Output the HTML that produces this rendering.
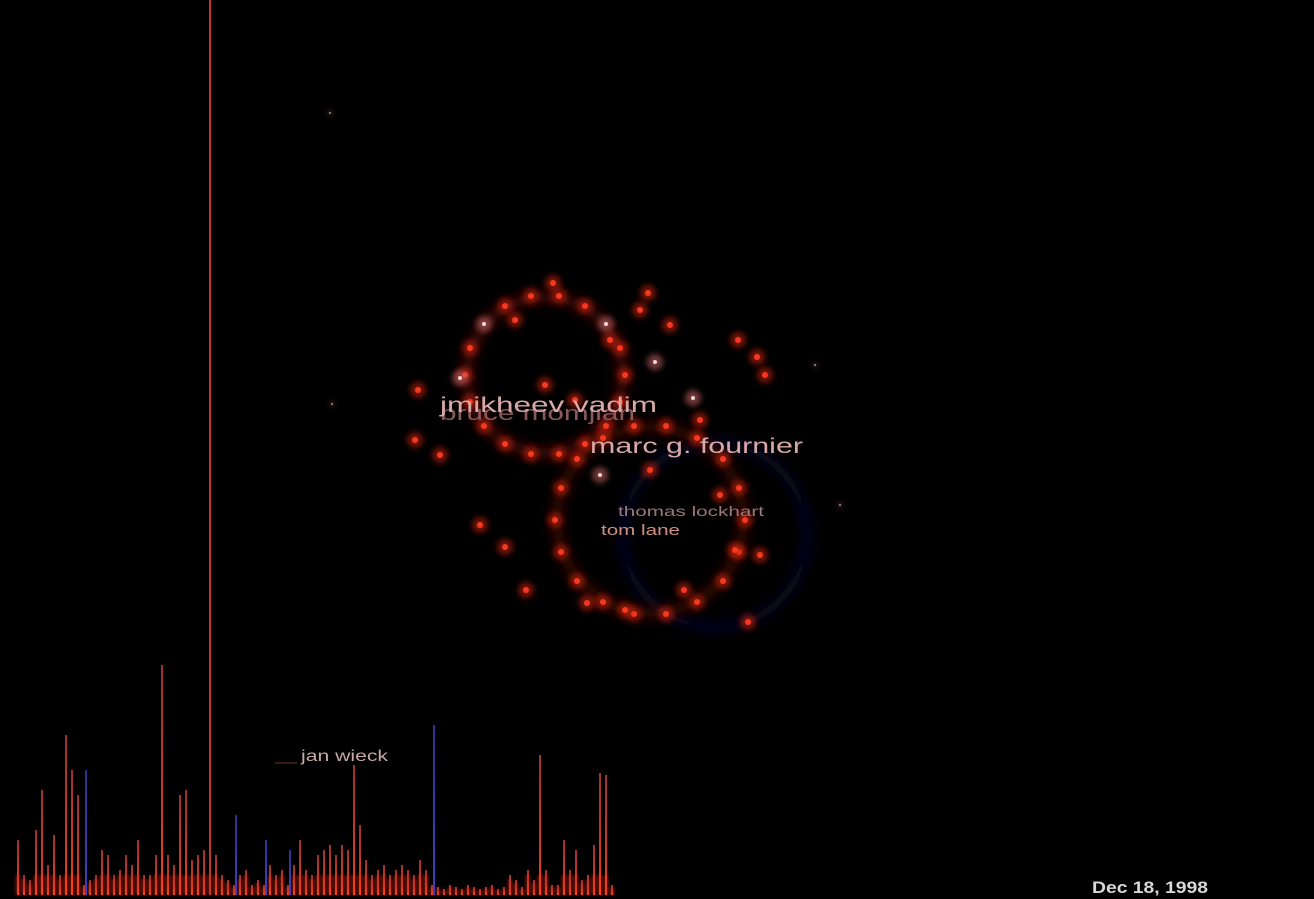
<!DOCTYPE html>
<html><head><meta charset="utf-8"><style>
html,body{margin:0;padding:0;background:#000;width:1314px;height:899px;overflow:hidden}
svg{display:block}
text{font-family:"Liberation Sans",sans-serif}
</style></head><body>
<svg id="chart" width="1314" height="899" viewBox="0 0 1314 899">
<defs>
<filter id="glow" x="-200%" y="-200%" width="500%" height="500%"><feGaussianBlur stdDeviation="3"/></filter>
<filter id="soft" x="-50%" y="-50%" width="200%" height="200%"><feGaussianBlur stdDeviation="1.2"/></filter>
<filter id="haze" x="-50%" y="-50%" width="200%" height="200%"><feGaussianBlur stdDeviation="6"/></filter>
<linearGradient id="redbar" x1="0" y1="1" x2="0" y2="0"><stop offset="0" stop-color="#ff4010"/><stop offset="0.25" stop-color="#d83a20"/><stop offset="1" stop-color="#a03030"/></linearGradient>
<linearGradient id="bluebar" x1="0" y1="1" x2="0" y2="0"><stop offset="0" stop-color="#4040c0"/><stop offset="1" stop-color="#303090"/></linearGradient>
</defs>
<rect width="1314" height="899" fill="#000"/>
<circle cx="715" cy="535" r="92" fill="none" stroke="#0c0c2a" stroke-width="8" filter="url(#haze)"/>
<circle cx="545" cy="375" r="78" fill="none" stroke="#5a1008" stroke-width="10" opacity="0.8" filter="url(#haze)"/>
<circle cx="650" cy="520" r="93" fill="none" stroke="#4a0c06" stroke-width="10" opacity="0.8" filter="url(#haze)"/>
<g id="hist"></g>
<g id="nodes"></g>
<g>
<text x="440" y="420" font-size="20" fill="#8a5a5a" textLength="195" lengthAdjust="spacingAndGlyphs">bruce momjian</text>
<text x="440" y="412" font-size="21" fill="#dba8a8" textLength="217" lengthAdjust="spacingAndGlyphs">jmikheev vadim</text>
<text x="590" y="453" font-size="21" fill="#d8a8a8" textLength="213" lengthAdjust="spacingAndGlyphs">marc g. fournier</text>
<text x="618" y="516" font-size="14" fill="#9a7878" textLength="146" lengthAdjust="spacingAndGlyphs">thomas lockhart</text>
<text x="601" y="535" font-size="15" fill="#d09080" textLength="79" lengthAdjust="spacingAndGlyphs">tom lane</text>
<line x1="275" y1="763" x2="297" y2="763" stroke="#502020" stroke-width="1.5"/>
<text x="301" y="761" font-size="16" fill="#c8a8a8" textLength="87" lengthAdjust="spacingAndGlyphs">jan wieck</text>
<text x="1092" y="893" font-size="17" font-weight="bold" fill="#d8d8d8" textLength="116" lengthAdjust="spacingAndGlyphs">Dec 18, 1998</text>
</g>
</svg>
<script>
// histogram bins: 100 bins starting at x=18
const redCounts = [55,20,15,65,105,30,60,20,160,125,100,10,15,20,45,40,20,25,40,30,55,20,20,40,230,40,30,100,105,35,40,45,895,40,20,15,10,20,25,10,15,10,30,20,25,10,30,55,25,20,40,45,50,40,50,45,130,70,35,20,25,30,20,25,30,25,20,35,25,10,8,6,10,8,6,10,8,6,8,10,6,8,20,15,8,25,15,140,25,10,10,55,25,45,15,20,50,122,120,10];
const blueCounts = [0,0,0,0,0,0,0,0,0,0,0,125,0,0,0,0,0,0,0,0,0,0,0,0,0,0,0,0,0,0,0,0,0,0,0,0,80,0,0,0,0,55,0,0,0,45,0,0,0,0,0,0,0,0,0,0,0,0,0,0,0,0,0,0,0,0,0,0,0,170,0,0,0,0,0,0,0,0,0,0,0,0,0,0,0,0,0,0,0,0,0,0,0,0,0,0,0,0,0,0];
// nodes: x, y, kind (0 red, 1 white)
const nodeX = [625,620,606,585,559,531,505,484,470,465,470,484,505,531,559,585,606,620,745,739,723,697,666,634,603,577,561,555,561,577,603,634,666,697,723,739,553,648,670,738,765,757,418,415,440,480,505,526,587,625,684,748,720,760,735,600,655,693,460,330,332,815,840,515,610,640,545,575,700,650];
const nodeY = [375,402,426,444,454,454,444,426,402,375,348,324,306,296,296,306,324,348,520,552,581,602,614,614,602,581,552,520,488,459,438,426,426,438,459,488,283,293,325,340,375,357,390,440,455,525,547,590,603,610,590,622,495,555,550,475,362,398,378,113,404,365,505,320,340,310,385,400,420,470];
const nodeKind = [0,0,0,0,0,0,0,0,0,0,0,1,0,0,0,0,1,0,0,0,0,0,0,0,0,0,0,0,0,0,0,0,0,0,0,0,0,0,0,0,0,0,0,0,0,0,0,0,0,0,0,0,0,0,0,1,1,1,1,1,1,1,1,0,0,0,0,0,0,0];

const NS='http://www.w3.org/2000/svg';
const base=895, x0=18, bw=6;
function xScale(i){return x0+i*bw;}
function yScale(v){return base-v;}
const hist=document.getElementById('hist');
redCounts.forEach((v,i)=>{
  if(!v)return;
  const g=document.createElementNS(NS,'rect');
  
  
  const gh=Math.min(v,25)*0.8;
  g.setAttribute('x',xScale(i)-2.5);g.setAttribute('y',yScale(gh));
  g.setAttribute('width',5);g.setAttribute('height',gh);
  g.setAttribute('fill','#d02808');g.setAttribute('opacity','0.5');g.setAttribute('filter','url(#soft)');
  hist.appendChild(g);
  const b=document.createElementNS(NS,'rect');
  
  
  b.setAttribute('x',xScale(i)-1);b.setAttribute('y',yScale(v));
  b.setAttribute('width',2);b.setAttribute('height',v);
  b.setAttribute('fill',v>800?'#c03828':'url(#redbar)');
  hist.appendChild(b);
});
blueCounts.forEach((v,i)=>{
  if(!v)return;
  const b=document.createElementNS(NS,'rect');
  
  
  b.setAttribute('x',xScale(i)+1);b.setAttribute('y',yScale(v));
  b.setAttribute('width',2);b.setAttribute('height',v);
  b.setAttribute('fill','url(#bluebar)');
  hist.appendChild(b);
});
const nodes=document.getElementById('nodes');
nodeX.forEach((x,i)=>{
  const y=nodeY[i],k=nodeKind[i];
  const faint=(x<340||x>800);
  const h=document.createElementNS(NS,'circle');
  
  
  h.setAttribute('cx',x);h.setAttribute('cy',y);h.setAttribute('r',faint?3:8);
  h.setAttribute('fill',k?'#c06060':'#c02010');h.setAttribute('opacity',faint?0.3:0.6);h.setAttribute('filter','url(#glow)');
  nodes.appendChild(h);
  const c=document.createElementNS(NS,'circle');
  
  
  c.setAttribute('cx',x);c.setAttribute('cy',y);c.setAttribute('r',faint?1.2:(k?2:3));
  c.setAttribute('fill',k?'#f0e0e0':'#ff3a20');c.setAttribute('opacity',faint?0.5:0.95);
  nodes.appendChild(c);
});
</script>
</body></html>
